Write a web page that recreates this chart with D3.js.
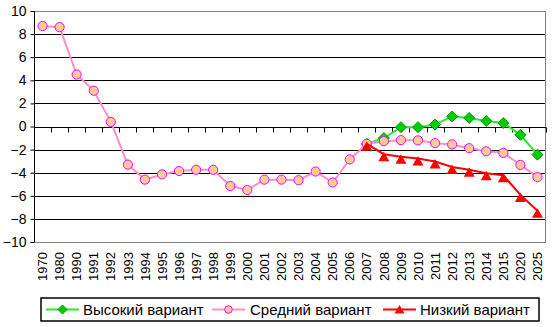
<!DOCTYPE html>
<html><head><meta charset="utf-8">
<script src="https://cdn.jsdelivr.net/npm/d3@7"></script>
<style>body{margin:0;background:#fff}svg{display:block}</style>
</head><body>
<script>
const years = ["1970","1980","1990","1991","1992","1993","1994","1995","1996","1997","1998","1999","2000","2001","2002","2003","2004","2005","2006","2007","2008","2009","2010","2011","2012","2013","2014","2015","2020","2025"];
const yTicks = [-10,-8,-6,-4,-2,0,2,4,6,8,10];
const seriesNames = ["Высокий вариант","Средний вариант","Низкий вариант"];
const N = null;
const highValues = [N,N,N,N,N,N,N,N,N,N,N,N,N,N,N,N,N,N,N,-1.5,-1.0,-0.06,-0.06,0.17,0.87,0.74,0.47,0.3,-0.72,-2.44];
const midValues = [8.7,8.6,4.5,3.1,0.4,-3.3,-4.6,-4.15,-3.85,-3.75,-3.75,-5.15,-5.5,-4.6,-4.6,-4.65,-3.9,-4.85,-2.85,-1.5,-1.27,-1.18,-1.2,-1.44,-1.55,-1.88,-2.15,-2.28,-3.32,-4.38];
const lowValues = [N,N,N,N,N,N,N,N,N,N,N,N,N,N,N,N,N,N,N,-1.5,-2.4,-2.62,-2.78,-3.03,-3.5,-3.75,-4.05,-4.22,-5.92,-7.3];

const W = 552, H = 327;
const svg = d3.select("body").append("svg").attr("width", W).attr("height", H)
  .style("font-family", "Arial, 'Liberation Sans', sans-serif");

const L = 34, R = 546, T = 11, B = 242;
const x = d3.scaleBand().domain(years).range([L, R]);
const y = d3.scaleLinear().domain([-10, 10]).range([B, T]);
const cx = d => x(d) + x.bandwidth() / 2;

// gridlines
svg.append("g").selectAll("line").data(yTicks.filter(v => v > -10 && v < 10 && v !== 0)).join("line")
  .attr("x1", L).attr("x2", R).attr("y1", d => Math.round(y(d)) + 0.5).attr("y2", d => Math.round(y(d)) + 0.5)
  .attr("stroke", "#000").attr("stroke-width", 1);
// plot border
svg.append("rect").attr("x", L + 0.5).attr("y", T + 0.5).attr("width", R - L - 1).attr("height", B - T)
  .attr("fill", "none").attr("stroke", "#808080").attr("stroke-width", 1);

// y axis
const yAxis = svg.append("g").attr("transform", `translate(${L + 0.5},0)`)
  .call(d3.axisLeft(y).tickValues(yTicks).tickSize(4).tickPadding(4).tickFormat(d3.format("d")));
yAxis.select(".domain").attr("stroke", "#000").attr("d", `M-0,${T}V${B}`);
yAxis.selectAll(".tick line").attr("stroke", "#000");
yAxis.selectAll(".tick text").attr("font-size", 14).attr("fill", "#000").attr("font-family", "Arial, 'Liberation Sans', sans-serif");

// zero axis with ticks at category boundaries
const y0 = Math.round(y(0)) + 0.5;
svg.append("line").attr("x1", L).attr("x2", R).attr("y1", y0).attr("y2", y0).attr("stroke", "#000");
svg.append("g").selectAll("line").data(years.concat(["end"])).join("line")
  .attr("x1", d => Math.round(d === "end" ? R : x(d)) + 0.5)
  .attr("x2", d => Math.round(d === "end" ? R : x(d)) + 0.5)
  .attr("y1", y0).attr("y2", y0 + 5).attr("stroke", "#000");

// x labels
const xAxis = svg.append("g").attr("transform", `translate(0,252)`)
  .call(d3.axisBottom(x).tickSize(0).tickPadding(0));
xAxis.select(".domain").remove();
xAxis.selectAll(".tick text")
  .attr("font-size", 13).attr("fill", "#000").attr("font-family", "Arial, 'Liberation Sans', sans-serif")
  .attr("text-anchor", "end").attr("transform", "rotate(-90)")
  .attr("x", 0).attr("y", 0).attr("dy", "0.36em");

const line = d3.line().defined(d => d.v !== null).x(d => cx(d.k)).y(d => y(d.v));
const pts = vals => years.map((k, i) => ({k, v: vals[i]}));

const diamond = "M0,-5.5L5.5,0L0,5.5L-5.5,0Z";
const tri = "M0,-2.5L5.5,7L-5.5,7Z";

// high
svg.append("path").datum(pts(highValues)).attr("d", line).attr("fill", "none").attr("stroke", "#22EE22").attr("stroke-width", 2);
svg.append("g").selectAll("path").data(pts(highValues).filter(d => d.v !== null)).join("path")
  .attr("d", diamond).attr("transform", d => `translate(${cx(d.k)},${y(d.v)})`)
  .attr("fill", "#00CC00").attr("stroke", "#009900").attr("stroke-width", 1);
// mid
svg.append("path").datum(pts(midValues)).attr("d", line).attr("fill", "none").attr("stroke", "#FF8FC8").attr("stroke-width", 2);
svg.append("g").selectAll("circle").data(pts(midValues)).join("circle")
  .attr("cx", d => cx(d.k)).attr("cy", d => y(d.v)).attr("r", 4.6)
  .attr("fill", "#FFCC99").attr("stroke", "#FF00FF").attr("stroke-width", 1);
// low
svg.append("path").datum(pts(lowValues)).attr("d", line).attr("fill", "none").attr("stroke", "#FF0000").attr("stroke-width", 2);
svg.append("g").selectAll("path").data(pts(lowValues).filter(d => d.v !== null)).join("path")
  .attr("d", tri).attr("transform", d => `translate(${cx(d.k)},${y(d.v)})`)
  .attr("fill", "#FF0000");

// legend
const lg = svg.append("g");
lg.append("rect").attr("x", 41).attr("y", 298).attr("width", 498).attr("height", 23)
  .attr("fill", "#fff").attr("stroke", "#000").attr("stroke-width", 1.5);
const items = [
  {name: seriesNames[0], x0: 46, tx: 83, color: "#22EE22", mark: "d"},
  {name: seriesNames[1], x0: 212, tx: 250, color: "#FF8FC8", mark: "c"},
  {name: seriesNames[2], x0: 383, tx: 420, color: "#FF0000", mark: "t"}
];
const ly = 309.5;
items.forEach(it => {
  lg.append("line").attr("x1", it.x0).attr("x2", it.x0 + 33).attr("y1", ly).attr("y2", ly).attr("stroke", it.color).attr("stroke-width", 2);
  const mx = it.x0 + 16.5;
  if (it.mark === "d") lg.append("path").attr("d", "M0,-4.5L4.5,0L0,4.5L-4.5,0Z").attr("transform", `translate(${mx},${ly})`).attr("fill", "#00CC00").attr("stroke", "#009900");
  if (it.mark === "c") lg.append("circle").attr("cx", mx).attr("cy", ly).attr("r", 3.8).attr("fill", "#FFCC99").attr("stroke", "#FF00FF");
  if (it.mark === "t") lg.append("path").attr("d", "M0,-4.5L5,4L-5,4Z").attr("transform", `translate(${mx},${ly})`).attr("fill", "#FF0000");
  lg.append("text").attr("x", it.tx).attr("y", ly).attr("dy", "0.36em").attr("font-size", 15).attr("fill", "#000").text(it.name);
});
</script>
</body></html>
